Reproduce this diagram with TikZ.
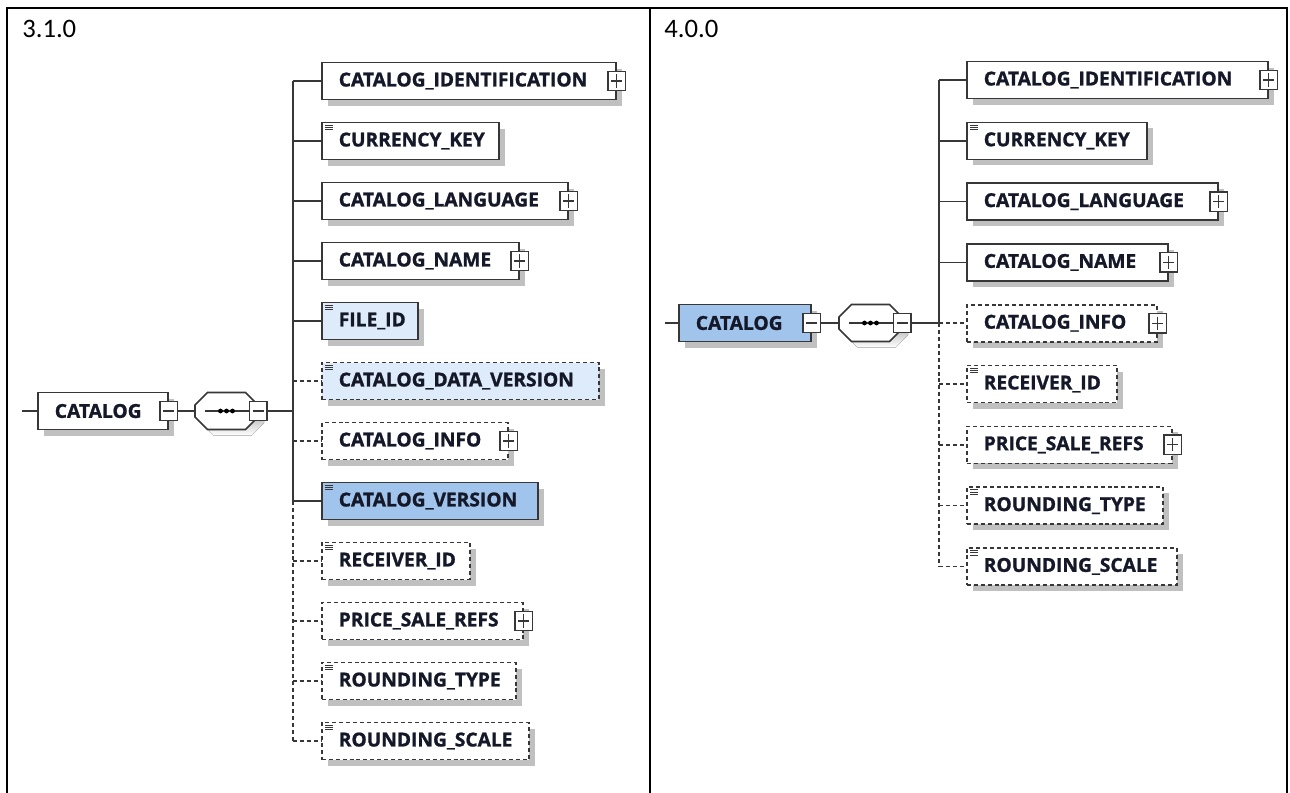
\documentclass[tikz,border=0pt]{standalone}
\usepackage{fontspec}
\setmainfont{Carlito}
\newfontfamily\lblfont{Open Sans}[BoldFeatures={FakeBold=1.2}]
\usetikzlibrary{shadows,calc}
\definecolor{edge}{RGB}{55,55,55}
\definecolor{shade}{RGB}{192,192,192}
\definecolor{pale}{RGB}{221,235,250}
\definecolor{midblue}{RGB}{160,196,236}
\definecolor{ink}{RGB}{20,24,40}
\tikzset{
  conn/.style={draw=edge, line width=1.1pt},
  optconn/.style={conn, dash pattern=on 3pt off 2.2pt},
  elem/.style={draw=edge, line width=1.2pt, fill=white, rectangle, anchor=west,
    minimum height=27.75pt, inner xsep=12.75pt, inner ysep=0pt, align=left,
    font=\lblfont\bfseries\fontsize{14.4pt}{16pt}\selectfont, text=ink,
    drop shadow={shadow xshift=4.5pt, shadow yshift=-4.5pt, fill=shade, opacity=1}},
  opt/.style={dash pattern=on 3pt off 2.2pt},
  simple/.style={path picture={
    \foreach \k in {0,1,2}{\draw[edge, line width=0.6pt, solid]
      ([xshift=2.6pt,yshift={-2pt-\k*1.7pt}]path picture bounding box.north west) -- ++(5.5pt,0);}}},
  icon/.style={draw=edge, line width=1.1pt, fill=white, solid, minimum width=13pt,
    minimum height=14.5pt, inner sep=0pt},
  plusicon/.style={icon, path picture={\draw[edge, line width=1pt, solid]
    ([xshift=2.3pt]path picture bounding box.west) -- ([xshift=-2.3pt]path picture bounding box.east)
    ([yshift=-2.3pt]path picture bounding box.north) -- ([yshift=2.3pt]path picture bounding box.south);}},
  minusicon/.style={icon, path picture={\draw[edge, line width=1pt, solid]
    ([xshift=2.3pt]path picture bounding box.west) -- ([xshift=-2.3pt]path picture bounding box.east);}},
  seqnode/.style={rectangle, draw=none, minimum width=47.25pt, minimum height=27.75pt, inner sep=0pt},
  title/.style={anchor=base west, inner sep=0pt, font=\fontsize{20pt}{22pt}\selectfont},
  frame/.style={line width=1.5pt, draw=black}
}
\newcommand\El[6]{%
  \pgfmathsetmacro\tw{(#5-34)*0.75}%
  \node[elem, #1, text width=\tw pt] (#2) at (#3,#4) {#6};}
\newcommand\Seq[1]{%
  \begin{scope}[shift={(#1.center)}]
    \fill[shade] (-13,-12.5) -- (25,-12.5) -- (37.5,0) -- (37.5,12) -- (25,24.5) -- (-13,24.5) -- (-25.5,12) -- (-25.5,0) -- cycle;
    \draw[edge, line width=1.2pt, fill=white] (-19,-18.5) -- (19,-18.5) -- (31.5,-6) -- (31.5,6) -- (19,18.5) -- (-19,18.5) -- (-31.5,6) -- (-31.5,-6) -- cycle;
    \draw[edge, line width=1.1pt] (-21.5,0) -- (22.5,0);
    \foreach \d in {-6,0,6}{\fill[black] (\d,0) circle (1.8pt);}
  \end{scope}}
\begin{document}
\begin{tikzpicture}[x=0.75pt,y=-0.75pt]
\useasboundingbox (0,0) rectangle (1290,793);
% table frame
\draw[frame] (7,793) -- (7,8) -- (1287,8) -- (1287,793);
\draw[frame] (650,8) -- (650,793);
\node[title] (t1) at (22,37) {3.1.0};
\node[title] (t2) at (664,37) {4.0.0};

% ===== left panel =====
\coordinate (inL) at (22,411);
\El{}{rootL}{37}{411}{130}{CATALOG}
\node[minusicon] (mL1) at (rootL.east) {};
\node[seqnode] (seqL) at (226.5,411) {};
\Seq{seqL}
\node[minusicon] (mL2) at (seqL.east) {};
\coordinate (tL) at (293,411);
\draw[conn] (inL) -- (rootL.west);
\draw[conn] (mL1.east) -- (seqL.west);
\draw[conn] (mL2.east) -- (tL);

\El{}{a1}{321}{81}{294}{CATALOG\_IDENTIFICATION}
\El{simple}{a2}{321}{141}{177}{CURRENCY\_KEY}
\El{}{a3}{321}{201}{246}{CATALOG\_LANGUAGE}
\El{}{a4}{321}{261}{197}{CATALOG\_NAME}
\El{simple, fill=pale}{a5}{321}{321}{96}{FILE\_ID}
\El{simple, fill=pale, opt}{a6}{321}{381}{277}{CATALOG\_DATA\_VERSION}
\El{opt}{a7}{321}{441}{186}{CATALOG\_INFO}
\El{simple, fill=midblue}{a8}{321}{501}{216}{CATALOG\_VERSION}
\El{simple, opt}{a9}{321}{561}{148}{RECEIVER\_ID}
\El{opt}{a10}{321}{621}{201}{PRICE\_SALE\_REFS}
\El{simple, opt}{a11}{321}{681}{194}{ROUNDING\_TYPE}
\El{simple, opt}{a12}{321}{741}{207}{ROUNDING\_SCALE}
\node[plusicon] (pa1) at (a1.east) {};
\node[plusicon] (pa3) at (a3.east) {};
\node[plusicon] (pa4) at (a4.east) {};
\node[plusicon] (pa7) at (a7.east) {};
\node[plusicon] (pa10) at (a10.east) {};

\draw[conn] (a1.west -| tL) -- (a8.west -| tL);
\draw[optconn] (a8.west -| tL) -- (a12.west -| tL);
\foreach \n in {a1,a2,a3,a4,a5,a8}{\draw[conn] (\n.west -| tL) -- (\n.west);}
\foreach \n in {a6,a7,a9,a10,a11,a12}{\draw[optconn] (\n.west -| tL) -- (\n.west);}

% ===== right panel =====
\coordinate (inR) at (665,323);
\El{fill=midblue}{rootR}{678}{323}{132}{CATALOG}
\node[minusicon] (mR1) at (rootR.east) {};
\node[seqnode] (seqR) at (870.5,323) {};
\Seq{seqR}
\node[minusicon] (mR2) at (seqR.east) {};
\coordinate (tR) at (939,323);
\draw[conn] (inR) -- (rootR.west);
\draw[conn] (mR1.east) -- (seqR.west);
\draw[conn] (mR2.east) -- (tR);

\El{}{b1}{966}{80}{301}{CATALOG\_IDENTIFICATION}
\El{simple}{b2}{966}{140.8}{180}{CURRENCY\_KEY}
\El{}{b3}{966}{201.6}{251}{CATALOG\_LANGUAGE}
\El{}{b4}{966}{262.4}{201}{CATALOG\_NAME}
\El{opt}{b5}{966}{323.2}{190}{CATALOG\_INFO}
\El{simple, opt}{b6}{966}{384}{150}{RECEIVER\_ID}
\El{opt}{b7}{966}{444.8}{205}{PRICE\_SALE\_REFS}
\El{simple, opt}{b8}{966}{505.6}{196}{ROUNDING\_TYPE}
\El{simple, opt}{b9}{966}{566.4}{210}{ROUNDING\_SCALE}
\node[plusicon] (pb1) at (b1.east) {};
\node[plusicon] (pb3) at (b3.east) {};
\node[plusicon] (pb4) at (b4.east) {};
\node[plusicon] (pb5) at (b5.east) {};
\node[plusicon] (pb7) at (b7.east) {};

\draw[conn] (b1.west -| tR) -- (tR);
\draw[optconn] (tR) -- (b9.west -| tR);
\foreach \n in {b1,b2,b3,b4}{\draw[conn] (\n.west -| tR) -- (\n.west);}
\foreach \n in {b5,b6,b7,b8,b9}{\draw[optconn] (\n.west -| tR) -- (\n.west);}
\end{tikzpicture}
\end{document}
